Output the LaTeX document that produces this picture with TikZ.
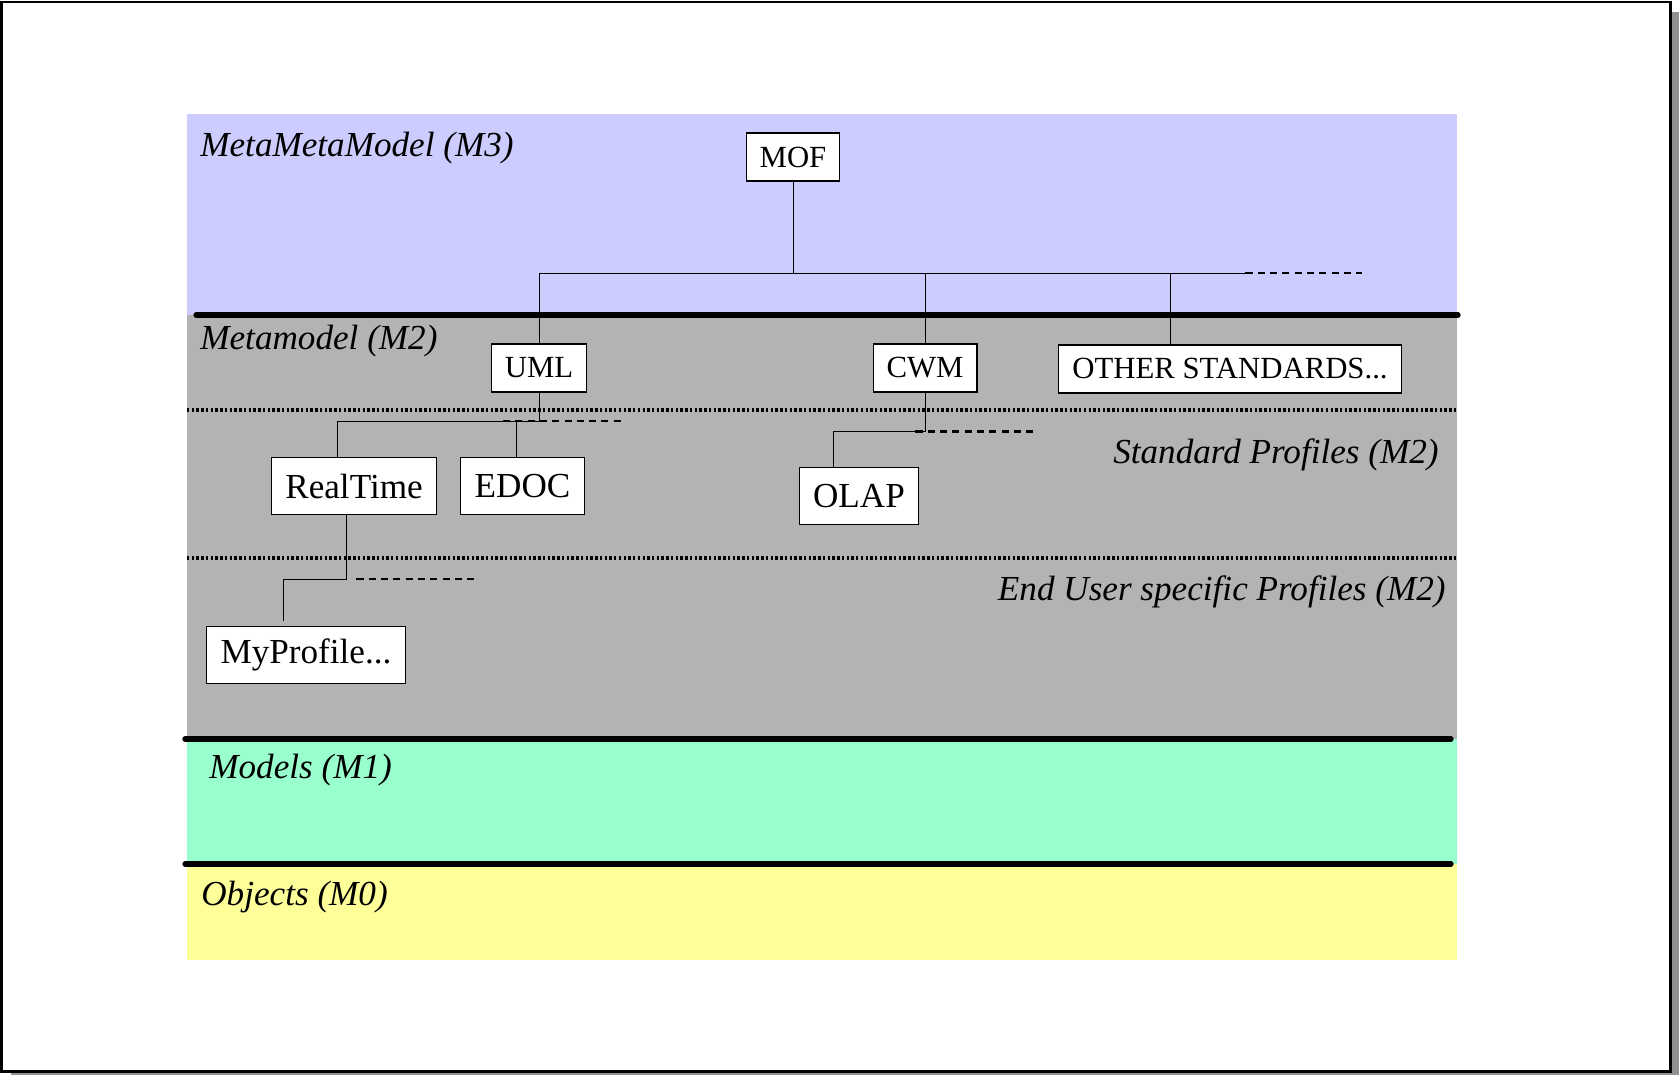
\documentclass[tikz,border=0pt]{standalone}
\usepackage{fontspec}
\setmainfont{Liberation Serif}
\usepackage{xcolor}
\definecolor{m3blue}{RGB}{204,204,255}
\definecolor{m2gray}{RGB}{179,178,181}
\definecolor{m1green}{RGB}{153,255,204}
\definecolor{m0yellow}{RGB}{255,255,153}
\definecolor{shadowgray}{RGB}{145,145,145}

\begin{document}
\begin{tikzpicture}[scale=0.2]
		\tikzstyle{stdbox}=[draw, fill=white, line width=0.6pt, inner xsep=7.7pt, minimum height=27.3pt, font=\fontsize{17.5}{20}\selectfont]
		\tikzstyle{profbox}=[draw, fill=white, line width=0.6pt, inner xsep=8pt, minimum height=32pt, font=\fontsize{20}{24}\selectfont]
		\tikzstyle{layer}=[inner sep=0pt, font=\fontsize{20}{24}\selectfont\itshape]
		\tikzstyle{bound}=[line width=3pt, line cap=round]
		\tikzstyle{sep}=[line width=2pt, dash pattern=on 1.4pt off 1.3pt]
		\tikzstyle{more}=[line width=1.2pt, dash pattern=on 4pt off 3pt]
		\useasboundingbox (0,0) rectangle (167.9,-107.5);
		% page with shadow
		\fill [shadowgray] (1.1,-1.2) rectangle (167.9,-107.5);
		\draw [line width=1.7pt, fill=white] (0.15,-0.2) rectangle (167.0,-107.1);
		% layers
		\fill [m3blue] (18.7,-11.35) rectangle (145.7,-31.5);
		\fill [m2gray] (18.7,-31.5) rectangle (145.7,-73.9);
		\fill [m1green] (18.7,-73.9) rectangle (145.7,-86.4);
		\fill [m0yellow] (18.7,-86.4) rectangle (145.7,-96.0);
		\draw [sep] (18.7,-41.0) -- (145.8,-41.0);
		\draw [sep] (18.7,-55.8) -- (145.8,-55.8);
		\draw [bound] (19.6,-31.5) -- (145.8,-31.5);
		\draw [bound] (18.5,-73.9) -- (145.1,-73.9);
		\draw [bound] (18.5,-86.4) -- (145.1,-86.4);
		\node [layer, anchor=base west] (m3) at (20.0,-15.6) {MetaMetaModel (M3)};
		\node [layer, anchor=base west] (m2) at (20.0,-34.9) {Metamodel (M2)};
		\node [layer, anchor=base east] (stdprof) at (143.9,-46.3) {Standard Profiles (M2)};
		\node [layer, anchor=base east] (userprof) at (144.6,-60.0) {End User specific Profiles (M2)};
		\node [layer, anchor=base west] (m1) at (20.9,-77.8) {Models (M1)};
		\node [layer, anchor=base west] (m0) at (20.1,-90.5) {Objects (M0)};
		% boxes
		\node [stdbox] (MOF) at (79.3,-15.7) {MOF};
		\node [stdbox] (UML) at (53.9,-36.8) {UML};
		\node [stdbox] (CWM) at (92.5,-36.8) {CWM};
		\node [stdbox] (other) at (123.0,-36.9) {OTHER STANDARDS...};
		\node [profbox] (realtime) at (35.4,-48.6) {RealTime};
		\node [profbox] (edoc) at (52.25,-48.6) {EDOC};
		\node [profbox] (olap) at (85.9,-49.6) {OLAP};
		\node [profbox] (myprofile) at (30.6,-65.5) {MyProfile...};
		% MOF tree
		\coordinate (mofend) at (124.55,-27.3);
		\coordinate (mofmore) at (136.2,-27.3);
		\coordinate (otherjoin) at (117.0,-27.3);
		\draw (MOF.south) -- (MOF.south |- mofend);
		\draw (UML.north) -- (UML.north |- mofend) -- (mofend);
		\draw [more] (mofend) -- (mofmore);
		\draw (CWM.north |- mofend) -- (CWM.north);
		\draw (otherjoin) -- (otherjoin |- other.north);
		% UML tree
		\coordinate (umlbus) at (33.7,-42.1);
		\coordinate (edocjoin) at (51.6,-42.1);
		\coordinate (umldash) at (50.3,-42.1);
		\coordinate (umlmore) at (62.1,-42.1);
		\draw (UML.south) -- (UML.south |- umlbus) -- (umlbus) -- (umlbus |- realtime.north);
		\draw (edocjoin) -- (edocjoin |- edoc.north);
		\draw [more] (umldash) -- (umlmore);
		% CWM tree
		\coordinate (cwmbus) at (83.3,-43.15);
		\coordinate (cwmdash) at (91.55,-43.15);
		\coordinate (cwmmore) at (103.4,-43.15);
		\draw (CWM.south) -- (CWM.south |- cwmbus) -- (cwmbus) -- (cwmbus |- olap.north);
		\draw [more] (cwmdash) -- (cwmmore);
		% RealTime tree
		\coordinate (rtdown) at (34.6,-57.9);
		\coordinate (rtbus) at (28.3,-57.9);
		\coordinate (rtdash) at (35.65,-57.9);
		\coordinate (rtmore) at (47.4,-57.9);
		\draw (rtdown |- realtime.south) -- (rtdown) -- (rtbus);
		\draw [shorten >=3pt] (rtbus) -- (rtbus |- myprofile.north);
		\draw [more] (rtdash) -- (rtmore);
	\end{tikzpicture}
\end{document}
